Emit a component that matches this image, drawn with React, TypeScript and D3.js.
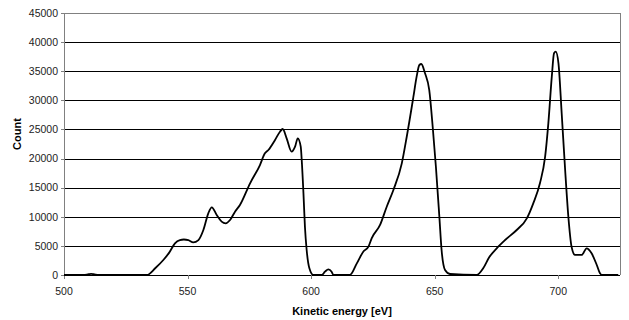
import React from "react";
import * as d3 from "d3";

const energy = [
  500, 508, 510, 511, 512, 514, 533.5, 537, 540.2, 542.5, 544.9, 546.9, 548.5, 550.3, 552.3, 554.4, 556.4, 558.4, 559.8,
  561.8, 563.8, 565.4, 567.2, 569.2, 571.2, 575.3, 579.3, 581.3, 582.7, 585.4, 587.4, 588.5, 590.1, 592.1,
  593.5, 594.6, 595.8, 596.2, 596.9, 597.5, 598.2, 599.3, 600.9, 604.3, 605.6, 607, 608.3, 609, 615.7,
  618.5, 621.1, 623.2, 624.5, 627.9, 630.6, 633.3, 636.7, 638.7, 641.4, 642.7, 643.8, 644.6, 646.1, 647.8,
  649.2, 650.5, 651.9, 652.8, 654.2, 656.2, 667, 669.7, 672, 675.1, 678.5, 683.2, 687.3, 689.9, 692.6,
  694.7, 696, 697.4, 698.3, 699, 700.1, 701.4, 702.8, 704.1, 705.4, 706.8, 709.5, 711.5, 713.5, 715.6,
  716.9, 717.6, 724.3,
];
const counts = [
  0, 0, 150, 200, 150, 0, 0, 1200, 2576, 3800, 5440, 6000, 6100, 6000, 5600, 6000, 7730, 10600, 11630,
  10300, 9160, 8880, 9450, 10870, 12020, 15750, 18890, 20900, 21470, 23190, 24610, 25080, 23480, 21180,
  22040, 23480, 22040, 19750, 14030, 8300, 4294, 1150, 0, 0, 570, 980, 570, 0, 0,
  2000, 4000, 4860, 6300, 8590, 11730, 14600, 19180, 23750, 30620, 34060, 36070, 36240, 34640, 31780,
  25470, 18600, 10010, 4290, 860, 170, 0, 1200, 3000, 4580, 6010, 7730, 9730, 12310, 15750,
  20320, 26050, 34060, 38080, 38360, 36360, 27770, 18040, 10010, 4860, 3440, 3440, 4580, 3730, 1720,
  290, 0, 0,
];
const xTicks = [500, 550, 600, 650, 700];
const yTicks = [0, 5000, 10000, 15000, 20000, 25000, 30000, 35000, 40000, 45000];
const xTitle = "Kinetic energy [eV]";
const yTitle = "Count";

export default function App() {
  const W = 629, H = 320;
  const left = 64, right = 620, top = 13, bottom = 275;
  const x = d3.scaleLinear().domain([500, 725]).range([left, right]);
  const y = d3.scaleLinear().domain([0, 45000]).range([bottom, top]);
  const data = energy.map((e, i) => [e, counts[i]] as [number, number]);
  const line = d3
    .line<[number, number]>()
    .x((d) => x(d[0]))
    .y((d) => y(d[1]))
    .curve(d3.curveMonotoneX);
  const font = "'Liberation Sans', Arial, sans-serif";
  const crisp = (v: number) => Math.round(v) + 0.5;
  return (
    <svg
      width={W}
      height={H}
      style={{ position: "absolute", left: 0, top: 0, background: "#fff" }}
      fontFamily={font}
    >
      {yTicks.map((t) => (
        <line
          key={"g" + t}
          x1={left}
          x2={right}
          y1={crisp(y(t))}
          y2={crisp(y(t))}
          stroke={t === 45000 ? "#808080" : "#000"}
          strokeWidth={1}
        />
      ))}
      <line x1={crisp(right)} x2={crisp(right)} y1={top} y2={bottom} stroke="#808080" />
      <line x1={crisp(left)} x2={crisp(left)} y1={top} y2={bottom} stroke="#808080" />
      {yTicks.map((t) => (
        <g key={"yt" + t}>
          <line x1={left - 3} x2={left} y1={crisp(y(t))} y2={crisp(y(t))} stroke="#808080" />
          <text x={58} y={y(t) + 3.8} fontSize={10.5} textAnchor="end" fill="#222">
            {t}
          </text>
        </g>
      ))}
      <line x1={left} x2={right} y1={crisp(bottom)} y2={crisp(bottom)} stroke="#000" />
      {xTicks.map((t) => (
        <g key={"xt" + t}>
          <line x1={crisp(x(t))} x2={crisp(x(t))} y1={bottom} y2={bottom + 4} stroke="#808080" />
          <text x={x(t)} y={295} fontSize={10.5} textAnchor="middle" fill="#222">
            {t}
          </text>
        </g>
      ))}
      <path d={line(data) || ""} fill="none" stroke="#000" strokeWidth={1.8} strokeLinejoin="round" />
      <text x={(left + right) / 2} y={315} fontSize={11} fontWeight="bold" textAnchor="middle" fill="#000">
        {xTitle}
      </text>
      <text
        transform={`translate(21, 134) rotate(-90)`}
        fontSize={11}
        fontWeight="bold"
        textAnchor="middle"
        fill="#000"
      >
        {yTitle}
      </text>
    </svg>
  );
}
